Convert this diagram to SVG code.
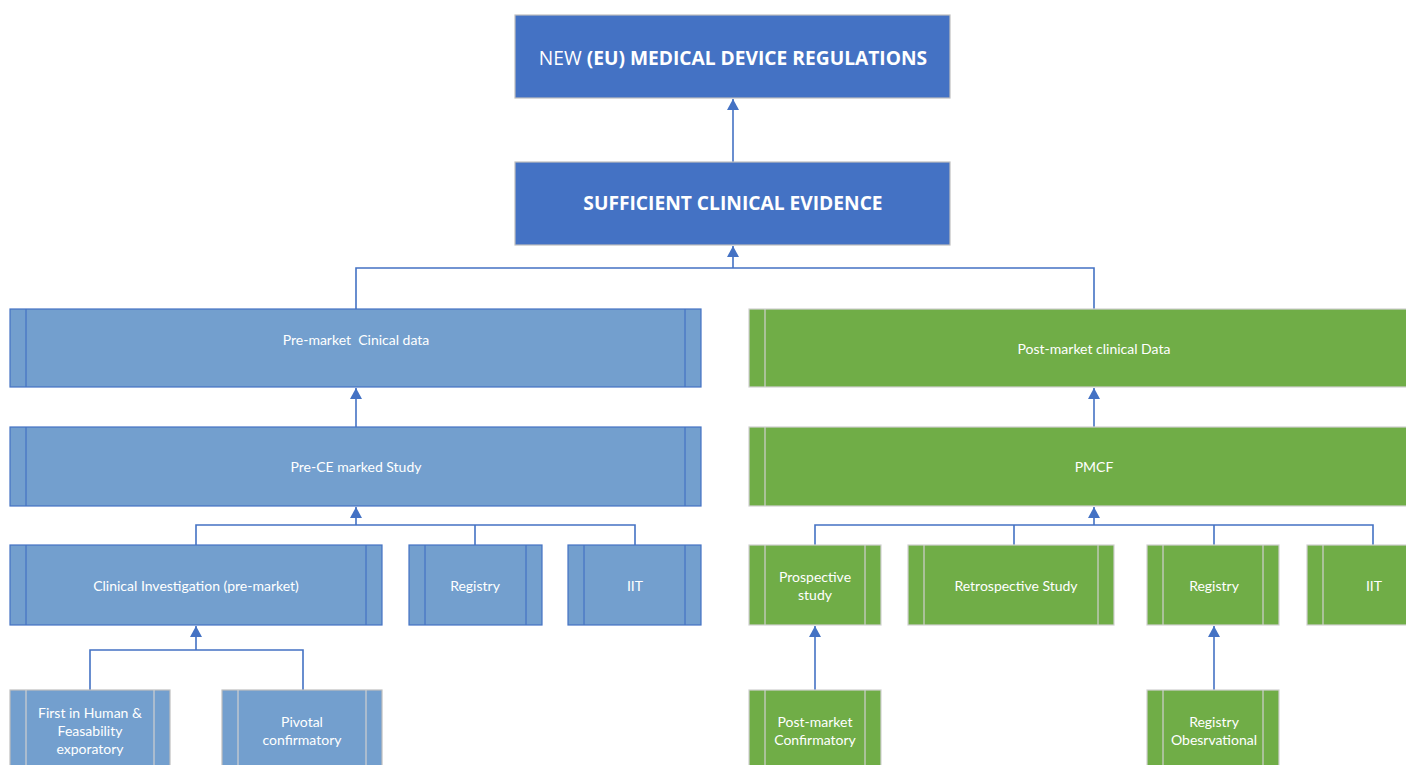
<svg xmlns="http://www.w3.org/2000/svg" width="1406" height="765" viewBox="0 0 1406 765">
<defs>
<marker id="ah" markerWidth="12" markerHeight="12" refX="11" refY="6" orient="auto" markerUnits="userSpaceOnUse">
<path d="M0,0 L11,6 L0,12 Z" fill="#4472C4"/>
</marker>
<style>
.top{fill:#4472C4;stroke:#BFBFBF;stroke-width:1.2}
.blue{fill:#739FCE;stroke:#4472C4;stroke-width:1.2}
.blueg{fill:#739FCE;stroke:#BFBFBF;stroke-width:1.2}
.green{fill:#70AD47;stroke:#D0D0D0;stroke-width:1.2}
.inb{stroke:#4472C4;stroke-width:1.2}
.ing{stroke:#D0D0D0;stroke-width:1.2}
.t{font-family:Lato,"Liberation Sans",sans-serif;font-size:14px;fill:#FFFFFF;text-anchor:middle;white-space:pre}
.h{font-family:"Open Sans","Liberation Sans",sans-serif;font-size:19.2px;fill:#FFFFFF;text-anchor:middle}
.c{fill:none;stroke:#4472C4;stroke-width:1.6}
</style>
</defs>
<g id="connectors">
<path class="c" d="M733,162 V99" marker-end="url(#ah)"/>
<path class="c" d="M356,309 V268 H1094 V309 M733,268 V246" marker-end="url(#ah)"/>
<path class="c" d="M356,427 V388" marker-end="url(#ah)"/>
<path class="c" d="M1094,427 V388" marker-end="url(#ah)"/>
<path class="c" d="M196,545 V525 H635 V545 M475,525 V545 M356,525 V507" marker-end="url(#ah)"/>
<path class="c" d="M815,545 V525 H1373 V545 M1014,525 V545 M1214,525 V545 M1094,525 V507" marker-end="url(#ah)"/>
<path class="c" d="M90,690 V650 H303 V690 M196,650 V626" marker-end="url(#ah)"/>
<path class="c" d="M815,690 V626" marker-end="url(#ah)"/>
<path class="c" d="M1214,690 V626" marker-end="url(#ah)"/>
</g>
<g id="n-mdr">
<rect class="top" x="515" y="15" width="435" height="83"/>
<text class="h" x="733" y="65"><tspan>NEW </tspan><tspan font-weight="bold">(EU) MEDICAL DEVICE REGULATIONS</tspan></text>
</g>
<g id="n-evidence">
<rect class="top" x="515" y="162" width="435" height="83"/>
<text class="h" x="733" y="210" font-weight="bold">SUFFICIENT CLINICAL EVIDENCE</text>
</g>
<g id="n-premarket">
<rect class="blue" x="10" y="309" width="691" height="78"/>
<path class="inb" d="M26,309 V387 M685,309 V387"/>
<text class="t" x="356" y="345" xml:space="preserve">Pre-market  Cinical data</text>
</g>
<g id="n-postmarket">
<rect class="green" x="749" y="309" width="670" height="78"/>
<path class="ing" d="M765,309 V387"/>
<text class="t" x="1094" y="354">Post-market clinical Data</text>
</g>
<g id="n-prece">
<rect class="blue" x="10" y="427" width="691" height="79"/>
<path class="inb" d="M26,427 V506 M685,427 V506"/>
<text class="t" x="356" y="472">Pre-CE marked Study</text>
</g>
<g id="n-pmcf">
<rect class="green" x="749" y="427" width="670" height="79"/>
<path class="ing" d="M765,427 V506"/>
<text class="t" x="1094" y="472">PMCF</text>
</g>
<g id="n-clinical">
<rect class="blue" x="10" y="545" width="372" height="80"/>
<path class="inb" d="M26,545 V625 M366,545 V625"/>
<text class="t" x="196" y="591">Clinical Investigation (pre-market)</text>
</g>
<g id="n-registry-l">
<rect class="blue" x="409" y="545" width="133" height="80"/>
<path class="inb" d="M425,545 V625 M526,545 V625"/>
<text class="t" x="475" y="591">Registry</text>
</g>
<g id="n-iit-l">
<rect class="blue" x="568" y="545" width="133" height="80"/>
<path class="inb" d="M584,545 V625 M685,545 V625"/>
<text class="t" x="635" y="591">IIT</text>
</g>
<g id="n-prospective">
<rect class="green" x="749" y="545" width="132" height="80"/>
<path class="ing" d="M765,545 V625 M865,545 V625"/>
<text class="t" x="815" y="582">Prospective</text>
<text class="t" x="815" y="600">study</text>
</g>
<g id="n-retro">
<rect class="green" x="908" y="545" width="206" height="80"/>
<path class="ing" d="M924,545 V625 M1098,545 V625"/>
<text class="t" x="1016" y="591">Retrospective Study</text>
</g>
<g id="n-registry-r">
<rect class="green" x="1147" y="545" width="132" height="80"/>
<path class="ing" d="M1163,545 V625 M1263,545 V625"/>
<text class="t" x="1214" y="591">Registry</text>
</g>
<g id="n-iit-r">
<rect class="green" x="1307" y="545" width="120" height="80"/>
<path class="ing" d="M1323,545 V625"/>
<text class="t" x="1374" y="591">IIT</text>
</g>
<g id="n-fih">
<rect class="blueg" x="10" y="690" width="160" height="90"/>
<path class="ing" d="M26,690 V780 M154,690 V780"/>
<text class="t" x="90" y="718">First in Human &amp;</text>
<text class="t" x="90" y="736">Feasability</text>
<text class="t" x="90" y="754">exporatory</text>
</g>
<g id="n-pivotal">
<rect class="blueg" x="222" y="690" width="160" height="90"/>
<path class="ing" d="M238,690 V780 M366,690 V780"/>
<text class="t" x="302" y="727">Pivotal</text>
<text class="t" x="302" y="745">confirmatory</text>
</g>
<g id="n-pm-confirm">
<rect class="green" x="749" y="690" width="132" height="90"/>
<path class="ing" d="M765,690 V780 M865,690 V780"/>
<text class="t" x="815" y="727">Post-market</text>
<text class="t" x="815" y="745">Confirmatory</text>
</g>
<g id="n-registry-obs">
<rect class="green" x="1147" y="690" width="132" height="90"/>
<path class="ing" d="M1163,690 V780 M1263,690 V780"/>
<text class="t" x="1214" y="727">Registry</text>
<text class="t" x="1214" y="745">Obesrvational</text>
</g>
</svg>
